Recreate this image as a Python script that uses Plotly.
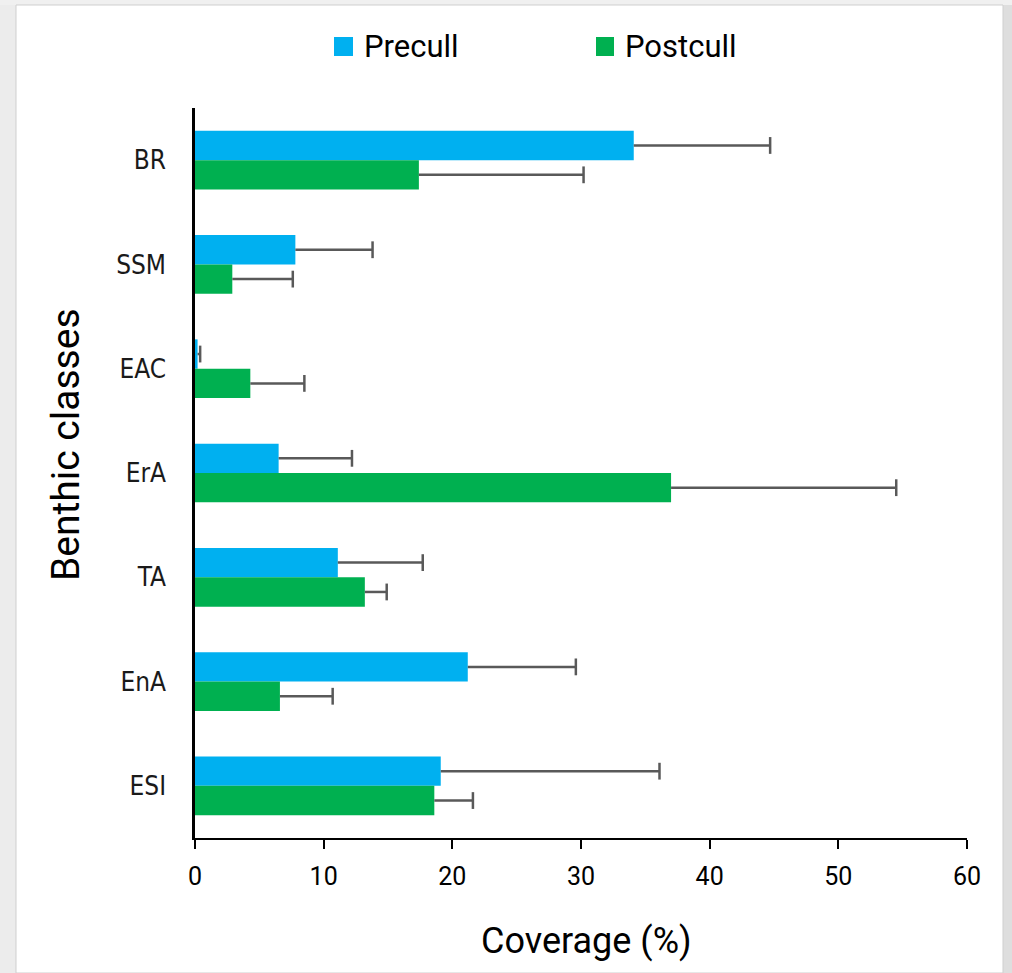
import plotly.graph_objects as go

# Benthic classes, listed from top to bottom of the chart
classes = ["BR", "SSM", "EAC", "ErA", "TA", "EnA", "ESI"]

# Mean coverage (%) and error (+) before and after culling
precull = [34.1, 7.8, 0.2, 6.5, 11.1, 21.2, 19.1]
precull_err = [10.6, 6.0, 0.2, 5.7, 6.6, 8.4, 17.0]
postcull = [17.4, 2.9, 4.3, 37.0, 13.2, 6.6, 18.6]
postcull_err = [12.8, 4.7, 4.2, 17.5, 1.7, 4.1, 3.0]

x_ticks = [0, 10, 20, 30, 40, 50, 60]

BLUE = "#00B0F0"
GREEN = "#00B050"
ERR = "#595959"
NARROW = "Liberation Sans Narrow, Arial Narrow, Roboto, sans-serif"
GAP = 0.437

fig = go.Figure()

for name, vals, color in [("Precull", precull, BLUE), ("Postcull", postcull, GREEN)]:
    fig.add_trace(go.Bar(
        name=name, y=classes, x=vals, orientation="h",
        marker=dict(color=color, line=dict(width=0)),
        offsetgroup=name, showlegend=False,
    ))

# Plus-direction error whiskers: a line back to the bar end and a cap marker
for name, vals, errs in [("Precull", precull, precull_err), ("Postcull", postcull, postcull_err)]:
    tips = [v + e for v, e in zip(vals, errs)]
    fig.add_trace(go.Scatter(
        y=classes, x=tips, orientation="h", mode="markers",
        offsetgroup=name, showlegend=False, hoverinfo="skip",
        marker=dict(symbol="line-ns", size=12, color=ERR,
                    line=dict(color=ERR, width=2.5)),
        error_x=dict(type="data", symmetric=False, array=[0] * len(errs),
                     arrayminus=errs, color=ERR, thickness=2.5, width=0),
    ))

L, R, T, B = 195, 45, 108, 135
PW = 1012 - L - R
PH = 973 - T - B

fig.update_layout(
    width=1012, height=973,
    margin=dict(l=L, r=R, t=T, b=B),
    paper_bgcolor="white", plot_bgcolor="white",
    barmode="group", bargap=GAP, bargroupgap=0,
    scattermode="group", scattergap=GAP,
    showlegend=False,
    xaxis=dict(
        range=[0, 60], tickvals=x_ticks, ticks="outside", ticklen=9,
        tickwidth=2, tickcolor="black", showline=True, linecolor="black",
        linewidth=2, showgrid=False, zeroline=False,
        ticklabelstandoff=6,
        tickfont=dict(family=NARROW, size=25, color="black"),
    ),
    yaxis=dict(
        categoryorder="array", categoryarray=classes, autorange="reversed",
        showline=True, linecolor="black", linewidth=2.5, ticks="",
        showgrid=False, zeroline=False, ticklabelstandoff=21,
        tickfont=dict(family="DejaVu Sans Condensed, DejaVu Sans", size=26,
                      color="#1a1a1a"),
    ),
)

def px_x(p):
    return (p - L) / float(PW)

def px_y(p):
    return (973 - B - p) / float(PH)

# Legend swatches and labels
for color, label, x0, x1, tx in [(BLUE, "Precull", 334, 353, 362),
                                 (GREEN, "Postcull", 596, 614, 623)]:
    fig.add_shape(type="rect", xref="paper", yref="paper",
                  x0=px_x(x0), x1=px_x(x1), y0=px_y(56), y1=px_y(37),
                  fillcolor=color, line=dict(width=0))
    fig.add_annotation(text=label, xref="paper", yref="paper",
                       x=px_x(tx), y=px_y(46.5), xanchor="left", yanchor="middle",
                       showarrow=False, font=dict(family=NARROW, size=31, color="black"))

# Axis titles
fig.add_annotation(text="Coverage (%)", xref="paper", yref="paper",
                   x=px_x(586), y=px_y(941), xanchor="center", yanchor="middle",
                   showarrow=False, font=dict(family=NARROW, size=36, color="black"))
fig.add_annotation(text="Benthic classes", xref="paper", yref="paper",
                   x=px_x(66), y=px_y(445), xanchor="center", yanchor="middle",
                   textangle=-90, showarrow=False,
                   font=dict(family=NARROW, size=39, color="black"))

# Window frame around the chart panel
fig.add_shape(type="rect", xref="paper", yref="paper", layer="below",
              x0=px_x(0), x1=px_x(16), y0=px_y(973), y1=px_y(0),
              fillcolor="#ececec", line=dict(width=0))
fig.add_shape(type="rect", xref="paper", yref="paper", layer="below",
              x0=px_x(1003), x1=px_x(1012), y0=px_y(973), y1=px_y(0),
              fillcolor="#dedede", line=dict(width=0))
fig.add_shape(type="rect", xref="paper", yref="paper", layer="below",
              x0=px_x(0), x1=px_x(1012), y0=px_y(5), y1=px_y(0),
              fillcolor="#f0f0f0", line=dict(width=0))
fig.add_shape(type="rect", xref="paper", yref="paper", layer="below",
              x0=px_x(16), x1=px_x(1003), y0=px_y(973), y1=px_y(5),
              fillcolor="rgba(0,0,0,0)", line=dict(color="#cfcfcf", width=1))

fig.write_html("out.html")
